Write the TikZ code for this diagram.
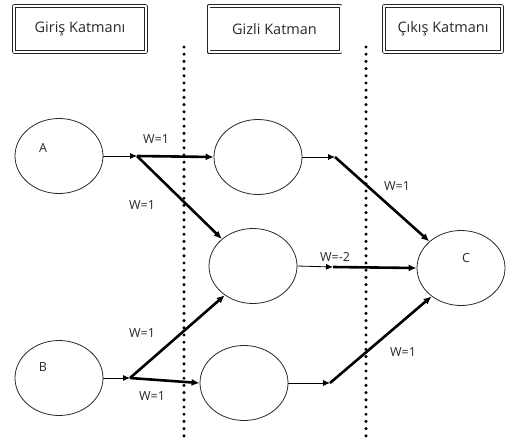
\documentclass[tikz,border=0pt]{standalone}
\usepackage{fontspec}
\setmainfont{Open Sans}
\usepackage{tikz}
\usetikzlibrary{shapes.geometric,arrows.meta}
\definecolor{inkgray}{RGB}{40,40,40}

\begin{document}
\begin{tikzpicture}[x=1pt, y=-1pt, line join = round,
  layerbox/.style={draw=inkgray, double, double distance=2pt, line width=0.9pt,
    minimum width=132pt, minimum height=46pt, font=\fontsize{14.5}{16}\selectfont, text=inkgray, inner sep=0pt},
  neuron/.style={draw=inkgray, ellipse, line width=0.8pt, minimum width=88pt, minimum height=75pt, inner sep=0pt},
  wlabel/.style={font=\fontsize{12.5}{14}\selectfont, text=inkgray, inner sep=0pt},
  thin arrow/.style={line width=0.8pt, -{Latex[length=7pt,width=6pt]}},
  thick arrow/.style={line width=2.6pt, -{Latex[length=8pt,width=7pt]}},
  dotline/.style={line width=3.4pt, line cap=round, dash pattern=on 0pt off 7.2pt}]
\useasboundingbox (0,0) rectangle (513,439);

% layer titles
\node[layerbox] (inbox) at (80,29) {Giriş Katmanı};
\node[layerbox] (hidbox) at (274.5,29) {Gizli Katman};
\node[layerbox, minimum width=118pt] (outbox) at (443,29) {Çıkış Katmanı};

% separators
\draw[dotline] (184,47) -- (184,437);
\draw[dotline] (366,47) -- (366,437);

% neurons
\node[neuron] (A) at (59,156) {};
\node[neuron] (B) at (59,378) {};
\node[neuron] (h1) at (258,157) {};
\node[neuron] (h2) at (253,266) {};
\node[neuron] (h3) at (244,383) {};
\node[neuron] (C) at (461,268) {};
\node[wlabel] (A-txt) at (43,148) {A};
\node[wlabel] (B-txt) at (43,367) {B};
\node[wlabel] (C-txt) at (466,258) {C};

\coordinate (jA) at (137,156);
\coordinate (jB) at (130,378);
\coordinate (j1) at (335,157);
\coordinate (j2) at (333,267);
\coordinate (j3) at (330,383);

% connections
\draw[thin arrow] (A.east) -- (jA);
\draw[thick arrow] (jA) -- (h1.west);
\draw[thick arrow] (jA) -- (h2.139);
\draw[thin arrow] (B.east) -- (jB);
\draw[thick arrow] (jB) -- (h2.226);
\draw[thick arrow] (jB) -- (h3.west);
\draw[thin arrow] (h1.east) -- (j1);
\draw[thick arrow] (j1) -- (C.140);
\draw[thin arrow] (h2.east) -- (j2);
\draw[thick arrow] (j2) -- (C.west);
\draw[thin arrow] (h3.east) -- (j3);
\draw[thick arrow] (j3) -- (C.224);

% weights
\node[wlabel] (wA1) at (156,139) {W=1};
\node[wlabel] (wA2) at (142,205) {W=1};
\node[wlabel] (wB1) at (142,333) {W=1};
\node[wlabel] (wB2) at (152,396) {W=1};
\node[wlabel] (w1C) at (397,186) {W=1};
\node[wlabel] (w2C) at (335,257) {W=-2};
\node[wlabel] (w3C) at (403,352) {W=1};
\end{tikzpicture}
\end{document}
